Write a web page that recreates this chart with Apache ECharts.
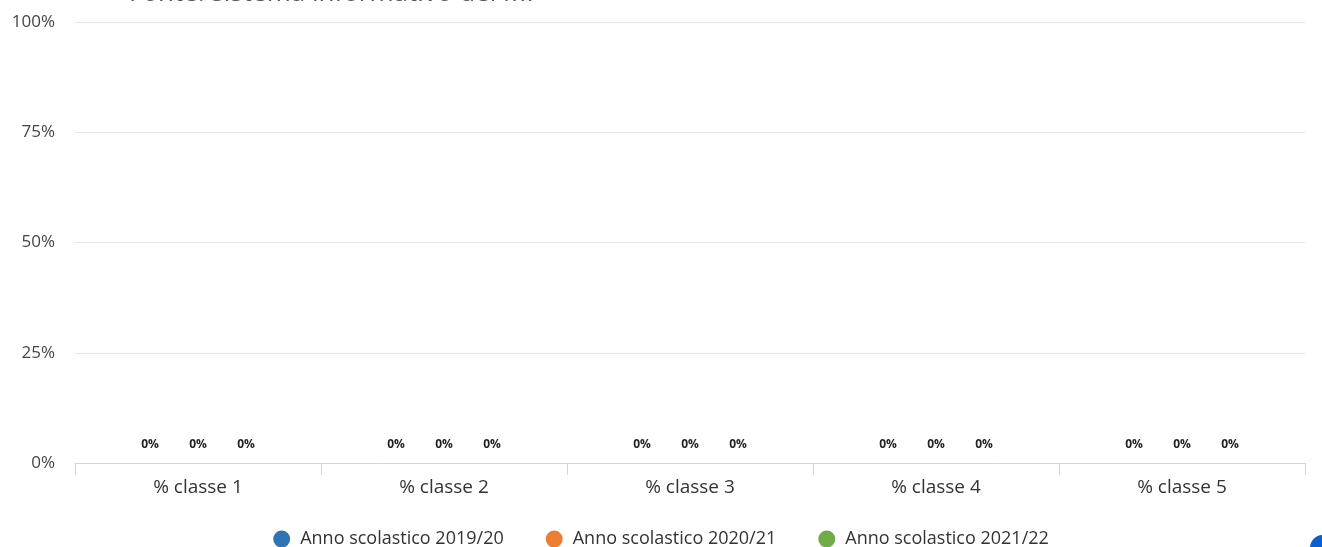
<!DOCTYPE html>
<html>
<head>
<meta charset="utf-8">
<script src="https://cdn.jsdelivr.net/npm/echarts@6/dist/echarts.min.js"></script>
<style>
  html, body { margin: 0; padding: 0; background: #fff; }
  #chart { width: 1322px; height: 547px; }
</style>
</head>
<body>
<div id="chart"></div>
<script>
// categorie e valori (percentuali)
const categories = ["% classe 1", "% classe 2", "% classe 3", "% classe 4", "% classe 5"];
const seriesNames = ["Anno scolastico 2019/20", "Anno scolastico 2020/21", "Anno scolastico 2021/22"];
const anno1920 = [0, 0, 0, 0, 0];
const anno2021 = [0, 0, 0, 0, 0];
const anno2122 = [0, 0, 0, 0, 0];
const yTicks = [0, 25, 50, 75, 100];

const colors = ["#2e75b6", "#ed7d31", "#70ad47"];
const fontFamily = "'Open Sans', 'Noto Sans', sans-serif";

const chart = echarts.init(document.getElementById("chart"));

function barSeries(name, data, i) {
  return {
    name: name,
    type: "bar",
    data: data,
    barWidth: 40,
    barGap: "20%",
    itemStyle: { color: colors[i] },
    label: {
      show: true,
      position: "top",
      distance: 12,
      formatter: "{c}%",
      fontFamily: fontFamily,
      fontSize: 12,
      fontWeight: "bold",
      color: "#222"
    }
  };
}

const option = {
  color: colors,
  textStyle: { fontFamily: fontFamily },
  title: {
    text: "Fonte: sistema informativo del MI",
    left: 124,
    top: -24,
    textStyle: { fontSize: 26, fontWeight: "normal", color: "#555", fontFamily: fontFamily }
  },
  grid: {
    left: 75,
    right: 17,
    top: 22,
    bottom: 84
  },
  legend: {
    top: 525,
    left: "center",
    icon: "circle",
    itemWidth: 17,
    itemHeight: 17,
    itemGap: 42,
    textStyle: { fontSize: 18, color: "#333", fontFamily: fontFamily, padding: [0, 0, 0, 5] },
    data: seriesNames
  },
  xAxis: {
    type: "category",
    data: categories,
    axisLine: { lineStyle: { color: "#ccd6eb" } },
    axisTick: { show: true, length: 12, lineStyle: { color: "#ccd6eb" } },
    axisLabel: { fontSize: 19, color: "#333", margin: 15 }
  },
  yAxis: {
    type: "value",
    min: yTicks[0],
    max: yTicks[yTicks.length - 1],
    interval: 25,
    axisLabel: { formatter: "{value}%", fontSize: 17, color: "#444", margin: 20 },
    splitLine: { lineStyle: { color: "#e6e6e6" } }
  },
  graphic: [{
    type: "circle",
    right: -14,
    bottom: -14,
    shape: { r: 13 },
    style: { fill: "#0b5fd1" }
  }],
  series: [
    barSeries(seriesNames[0], anno1920, 0),
    barSeries(seriesNames[1], anno2021, 1),
    barSeries(seriesNames[2], anno2122, 2)
  ]
};

chart.setOption(option);
window.addEventListener("resize", function () {
  chart.resize();
});
</script>
</body>
</html>
